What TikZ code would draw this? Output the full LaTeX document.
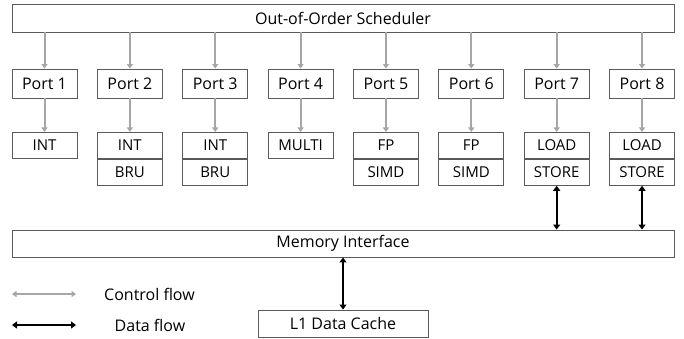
\documentclass[tikz,border=0pt]{standalone}
\usepackage{fontspec}
\setmainfont{Open Sans}
\usetikzlibrary{arrows.meta}
\definecolor{ctrl}{RGB}{166,166,166}
\definecolor{edge}{RGB}{90,90,90}
\tikzset{
  box/.style={draw=edge, line width=0.9pt, rectangle, inner sep=0pt, font=\fontsize{16}{18}\selectfont, text=black},
  portbox/.style={box, minimum width=65pt, minimum height=29pt},
  unitbox/.style={box, minimum width=65pt, minimum height=26pt, font=\fontsize{15}{17}\selectfont},
  ctrlarrow/.style={draw=ctrl, line width=2pt, -{Triangle[length=4.5pt,width=6pt]}},
  ctrlboth/.style={draw=ctrl, line width=2pt, {Triangle[length=4.5pt,width=6pt]}-{Triangle[length=4.5pt,width=6pt]}},
  dataarrow/.style={draw=black, line width=1.8pt, {Triangle[length=5pt,width=7pt]}-{Triangle[length=5pt,width=7pt]}},
  lbl/.style={font=\fontsize{16}{18}\selectfont, inner sep=0pt}
}
\begin{document}
\begin{tikzpicture}[x=1pt,y=-1pt]
\useasboundingbox (0,0) rectangle (684,339);
\node[box, minimum width=662pt, minimum height=28pt] (sched) at (343,18) {Out-of-Order Scheduler};
\foreach \i/\n in {1/Port 1,2/Port 2,3/Port 3,4/Port 4,5/Port 5,6/Port 6,7/Port 7,8/Port 8}{
  \pgfmathsetmacro{\cx}{44.5+85.36*(\i-1)}
  \node[portbox] (p\i) at (\cx,83.5) {\n};
  \draw[ctrlarrow] (sched.south -| p\i) -- (p\i.north);
}
\node[unitbox, anchor=north] (u1) at (p1 |- 0,132) {INT};
\node[unitbox, anchor=north] (u2) at (p2 |- 0,132) {INT};
\node[unitbox, anchor=north] (v2) at (u2.south) {BRU};
\node[unitbox, anchor=north] (u3) at (p3 |- 0,132) {INT};
\node[unitbox, anchor=north] (v3) at (u3.south) {BRU};
\node[unitbox, anchor=north] (u4) at (p4 |- 0,132) {MULTI};
\node[unitbox, anchor=north] (u5) at (p5 |- 0,132) {FP};
\node[unitbox, anchor=north] (v5) at (u5.south) {SIMD};
\node[unitbox, anchor=north] (u6) at (p6 |- 0,132) {FP};
\node[unitbox, anchor=north] (v6) at (u6.south) {SIMD};
\node[unitbox, anchor=north] (u7) at (p7 |- 0,132) {LOAD};
\node[unitbox, anchor=north] (v7) at (u7.south) {STORE};
\node[unitbox, anchor=north] (u8) at (p8 |- 0,132) {LOAD};
\node[unitbox, anchor=north] (v8) at (u8.south) {STORE};
\foreach \i in {1,...,8}{
  \draw[ctrlarrow] (p\i.south) -- (u\i.north);
}
\node[box, minimum width=662pt, minimum height=27pt] (mem) at (343,243.5) {Memory Interface};
\node[box, minimum width=170pt, minimum height=27pt] (l1) at (343,323.5) {L1 Data Cache};
\draw[dataarrow] (v7.south) -- (v7.south |- mem.north);
\draw[dataarrow] (v8.south) -- (v8.south |- mem.north);
\draw[dataarrow] (mem.south) -- (l1.north);
\coordinate (c1) at (12,294);
\coordinate (c2) at (76,294);
\coordinate (d1) at (12,325);
\coordinate (d2) at (76,325);
\draw[ctrlboth] (c1) -- (c2);
\draw[dataarrow] (d1) -- (d2);
\node[lbl] (lc) at (149.5,294) {Control flow};
\node[lbl] (ld) at (150,325) {Data flow};
\end{tikzpicture}
\end{document}
